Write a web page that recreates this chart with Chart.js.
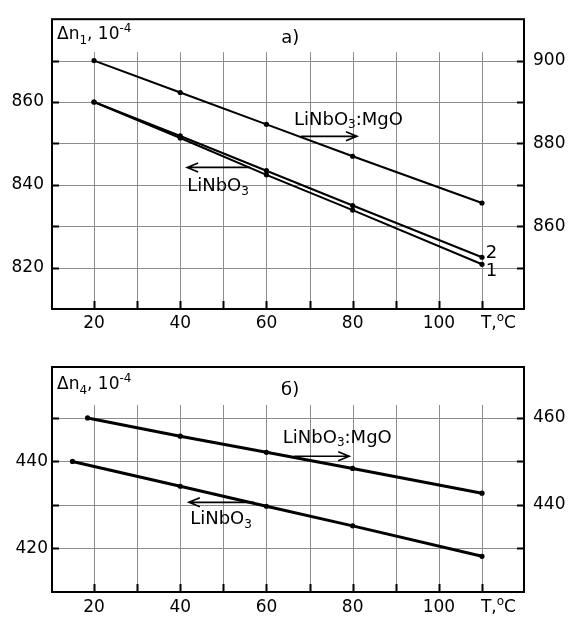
<!DOCTYPE html>
<html>
<head>
<meta charset="utf-8">
<script src="https://cdn.jsdelivr.net/npm/chart.js@4.4.1/dist/chart.umd.min.js"></script>
<style>
  body { margin: 0; background: #fff; }
  #wrap { position: relative; width: 575px; height: 618px; }
  canvas { position: absolute; left: 0; }
</style>
</head>
<body>
<div id="wrap">
  <canvas id="chartA" width="575" height="340" style="top:0"></canvas>
  <canvas id="chartB" width="575" height="278" style="top:340px"></canvas>
</div>
<script>
// panel a) - delta n1
const tempsA = [20, 40, 60, 80, 110];
const mgoA = [900, 892.3, 884.6, 876.9, 865.6];      // right axis
const curve1A = [860, 851.3, 842.4, 833.9, 820.8];   // left axis
const curve2A = [860, 851.8, 843.4, 835.0, 822.5];   // left axis

// panel б) - delta n4
const tempsMgoB = [18.5, 40, 60, 80, 110];
const mgoB = [460, 455.8, 452.1, 448.4, 442.7];      // right axis
const tempsPureB = [15, 40, 60, 80, 110];
const pureB = [440, 434.3, 429.7, 425.2, 418.2];     // left axis

const xLabels = [20, 40, 60, 80, 100];
const leftLabelsA = [820, 840, 860];
const rightLabelsA = [860, 880, 900];
const leftLabelsB = [420, 440];
const rightLabelsB = [440, 460];

const FONT = '"DejaVu Sans", Verdana, sans-serif';

function pts(xs, ys) {
    return xs.map((x, i) => ({ x: x, y: ys[i] }));
}

// draws a run of text pieces (for sub/superscripts)
function drawRuns(ctx, x, y, runs, size, align) {
    let total = 0;
    runs.forEach(r => {
        ctx.font = Math.round(size * (r.s || 1)) + 'px ' + FONT;
        r.w = ctx.measureText(r.t).width;
        total += r.w;
    });
    let cx = align === 'center' ? x - total / 2 : x;
    runs.forEach(r => {
        ctx.font = Math.round(size * (r.s || 1)) + 'px ' + FONT;
        ctx.fillText(r.t, cx, y + (r.dy || 0));
        cx += r.w;
    });
}

function arrow(ctx, x1, x2, y) {
    const dir = x2 > x1 ? 1 : -1;
    ctx.beginPath();
    ctx.moveTo(x1, y); ctx.lineTo(x2, y);
    ctx.moveTo(x2 - dir * 11, y - 4.5); ctx.lineTo(x2, y); ctx.lineTo(x2 - dir * 11, y + 4.5);
    ctx.stroke();
}

const panelPlugin = {
    id: 'panel',
    beforeDatasetsDraw(chart, args, o) {
        const { ctx, chartArea: a, scales } = chart;
        ctx.save();
        ctx.strokeStyle = '#8c8c8c';
        ctx.lineWidth = 1;
        for (let t = 20; t <= 110; t += 10) {
            const px = Math.round(scales.x.getPixelForValue(t)) + 0.5;
            ctx.beginPath(); ctx.moveTo(px, a.bottom); ctx.lineTo(px, a.top + o.gridTop); ctx.stroke();
        }
        o.hGrid.forEach(v => {
            const py = Math.round(scales.y.getPixelForValue(v)) + 0.5;
            ctx.beginPath(); ctx.moveTo(a.left, py); ctx.lineTo(a.right, py); ctx.stroke();
        });
        ctx.restore();
    },
    afterDraw(chart, args, o) {
        const { ctx, chartArea: a, scales } = chart;
        const X = v => scales.x.getPixelForValue(v);
        const Y = v => scales.y.getPixelForValue(v);
        ctx.save();
        ctx.strokeStyle = '#000';
        ctx.fillStyle = '#000';
        ctx.lineWidth = 2;
        ctx.strokeRect(a.left, a.top, a.right - a.left, a.bottom - a.top);
        // inner tick marks
        for (let t = 20; t <= 110; t += 10) {
            const px = Math.round(X(t)) + 0.5;
            ctx.beginPath(); ctx.moveTo(px, a.bottom); ctx.lineTo(px, a.bottom - 8); ctx.stroke();
        }
        o.hGrid.forEach(v => {
            const py = Math.round(Y(v)) + 0.5;
            ctx.beginPath();
            ctx.moveTo(a.left, py); ctx.lineTo(a.left + 7, py);
            ctx.moveTo(a.right, py); ctx.lineTo(a.right - 7, py);
            ctx.stroke();
        });
        // axis title at the 110 position
        ctx.textBaseline = 'middle';
        drawRuns(ctx, X(110) - 1, a.bottom + o.titleDy, [
            { t: 'T,' }, { t: 'o', s: 0.68, dy: -6 }, { t: 'C' }
        ], 17, 'left');
        // y title
        drawRuns(ctx, a.left + 5, Y(o.yTitle.y), [
            { t: 'Δn' }, { t: o.yTitle.sub, s: 0.7, dy: 6 }, { t: ', 10' }, { t: '-4', s: 0.7, dy: -6 }
        ], 17, 'left');
        // notes
        o.notes.forEach(n => drawRuns(ctx, X(n.x), Y(n.y), n.runs, 18, n.align || 'left'));
        ctx.lineWidth = 1.6;
        o.arrows.forEach(r => arrow(ctx, X(r.x1), X(r.x2), Y(r.y)));
        ctx.restore();
    }
};

function lineSet(data, axis, width) {
    return {
        data: data,
        yAxisID: axis,
        borderColor: '#000',
        backgroundColor: '#000',
        borderWidth: width,
        pointRadius: 2.6,
        pointBorderWidth: 0,
        pointBackgroundColor: '#000',
        showLine: true,
        tension: 0
    };
}

function setTicks(values) {
    return s => { s.ticks = values.map(v => ({ value: v })); };
}

function makeOptions(p) {
    return {
        responsive: false,
        animation: false,
        layout: { padding: { top: p.padTop, left: 0, right: 0, bottom: 0 } },
        plugins: { legend: { display: false }, tooltip: { enabled: false }, panel: p.panel },
        scales: {
            x: {
                type: 'linear', min: 10.25, max: 119.75,
                grid: { display: false, drawTicks: false },
                border: { display: false },
                afterBuildTicks: setTicks(xLabels),
                afterFit: s => { s.height = p.xHeight; },
                ticks: {
                    autoSkip: false, maxRotation: 0, padding: p.xPad,
                    color: '#000', font: { family: FONT, size: 17 }
                }
            },
            y: {
                position: 'left', min: p.yMin, max: p.yMax,
                grid: { display: false, drawTicks: false },
                border: { display: false },
                afterBuildTicks: setTicks(p.leftLabels),
                afterFit: s => { s.width = 52; },
                ticks: {
                    autoSkip: false, padding: p.yPad,
                    color: '#000', font: { family: FONT, size: 17 }
                }
            },
            y2: {
                position: 'right', min: p.y2Min, max: p.y2Max,
                grid: { display: false, drawTicks: false },
                border: { display: false },
                afterBuildTicks: setTicks(p.rightLabels),
                afterFit: s => { s.width = 51; },
                ticks: {
                    autoSkip: false, padding: 9,
                    color: '#000', font: { family: FONT, size: 17 }
                }
            }
        }
    };
}

const sub3 = { t: '3', s: 0.68, dy: 5 };

new Chart(document.getElementById('chartA').getContext('2d'), {
    type: 'scatter',
    plugins: [panelPlugin],
    data: {
        datasets: [
            lineSet(pts(tempsA, mgoA), 'y2', 2),
            lineSet(pts(tempsA, curve1A), 'y', 2),
            lineSet(pts(tempsA, curve2A), 'y', 2)
        ]
    },
    options: makeOptions({
        padTop: 8, xHeight: 31, xPad: 4, yPad: 8,
        yMin: 810, yMax: 880, y2Min: 840, y2Max: 910,
        leftLabels: leftLabelsA, rightLabels: rightLabelsA,
        panel: {
            gridTop: 33, titleDy: 15,
            hGrid: [820, 830, 840, 850, 860, 870],
            yTitle: { y: 876.2, sub: '1' },
            notes: [
                { x: 65.5, y: 875.3, runs: [{ t: 'a)' }], align: 'center' },
                { x: 66.4, y: 855.6, runs: [{ t: 'LiNbO' }, sub3, { t: ':MgO' }] },
                { x: 41.6, y: 839.6, runs: [{ t: 'LiNbO' }, sub3] },
                { x: 110.9, y: 823.4, runs: [{ t: '2' }] },
                { x: 110.9, y: 819.2, runs: [{ t: '1' }] }
            ],
            arrows: [
                { x1: 68, x2: 81, y: 851.7 },
                { x1: 56.2, x2: 41.6, y: 844.2 }
            ]
        }
    })
});

new Chart(document.getElementById('chartB').getContext('2d'), {
    type: 'scatter',
    plugins: [panelPlugin],
    data: {
        datasets: [
            lineSet(pts(tempsMgoB, mgoB), 'y2', 3),
            lineSet(pts(tempsPureB, pureB), 'y', 3)
        ]
    },
    options: makeOptions({
        padTop: 27, xHeight: 26, xPad: 5, yPad: 4,
        yMin: 410, yMax: 461.7, y2Min: 420, y2Max: 471.7,
        leftLabels: leftLabelsB, rightLabels: rightLabelsB,
        panel: {
            gridTop: 38, titleDy: 16,
            hGrid: [420, 430, 440, 450],
            yTitle: { y: 457.6, sub: '4' },
            notes: [
                { x: 65.5, y: 456.4, runs: [{ t: 'б)' }], align: 'center' },
                { x: 63.8, y: 445.3, runs: [{ t: 'LiNbO' }, sub3, { t: ':MgO' }] },
                { x: 42.3, y: 426.6, runs: [{ t: 'LiNbO' }, sub3] }
            ],
            arrows: [
                { x1: 66.4, x2: 79.2, y: 441.2 },
                { x1: 57.1, x2: 42.0, y: 430.6 }
            ]
        }
    })
});
</script>
</body>
</html>
